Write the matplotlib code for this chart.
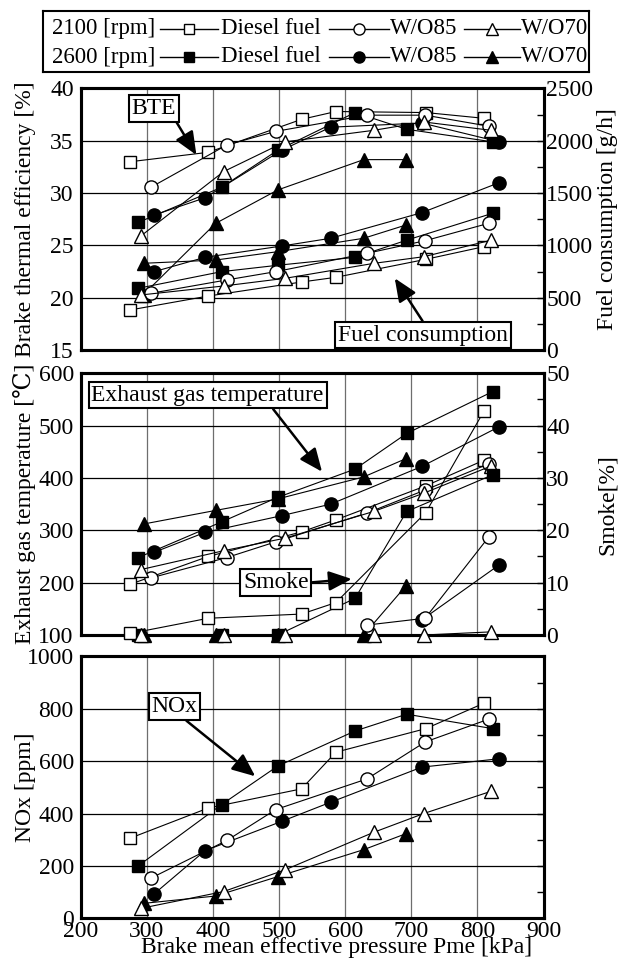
import numpy as np
import matplotlib.pyplot as plt
from matplotlib.ticker import MultipleLocator

plt.rcParams['font.family'] = ['Liberation Serif', 'DejaVu Serif']
plt.rcParams['font.size'] = 17

NAN = np.nan

# Brake mean effective pressure [kPa] for each test series
PME_D21 = [275, 393, 534, 586, 722, 810]
PME_O85_21 = [306, 421, 495, 633, 721, 817]
PME_O70_21 = [291, 416, 509, 643, 719, 821]
PME_D26 = [287, 413, 498, 615, 693, 823]
PME_O85_26 = [311, 388, 504, 578, 716, 833]
PME_O70_26 = [295, 404, 498, 628, 692]

# Brake thermal efficiency [%]
BTE_D21 = [33.0, 33.9, 37.05, 37.8, 37.7, 37.15]
BTE_O85_21 = [30.55, 34.6, 35.9, 37.45, 37.45, 36.4]
BTE_O70_21 = [25.9, 32.05, 34.9, 36.0, 36.8, 36.0]
BTE_D26 = [27.2, 30.55, 34.1, 37.7, 36.1, 34.9]
BTE_O85_26 = [27.9, 29.55, 34.1, 36.3, 36.7, 34.9]
BTE_O70_26 = [20.3, 27.1, 30.3, 33.2, 33.2]

# Fuel consumption [g/h]
FC_D21 = [383, 516, 650, 695, 867, 988]
FC_O85_21 = [542, 670, 749, 924, 1045, 1211]
FC_O70_21 = [526, 612, 685, 828, 892, 1050]
FC_D26 = [590, 749, 810, 886, 1050, 1307]
FC_O85_26 = [749, 886, 994, 1068, 1313, 1600]
FC_O70_26 = [829, 860, 940, 1068, 1195]

# Exhaust gas temperature [C]
EGT_D21 = [197, 250, 297, 320, 385, 434]
EGT_O85_21 = [209, 248, 278, 333, 377, 427]
EGT_O70_21 = [225, 261, 285, 336, 371, 423]
EGT_D26 = [248, 316, 363, 417, 485, 565]
EGT_O85_26 = [258, 296, 328, 350, 422, 498]
EGT_O70_26 = [312, 338, 360, 402, 437]

# Smoke [%]
SMK_D21 = [0.3, 3.2, 4.0, 6.2, 23.4, 42.8]
SMK_O85_21 = [NAN, NAN, NAN, 1.9, 3.2, 18.7]
SMK_O70_21 = [0, 0, 0, 0, 0, 0.6]
SMK_D26 = [0, 0, 0, 7.0, 23.6, 30.6]
SMK_O85_26 = [NAN, NAN, NAN, NAN, 2.9, 13.4]
SMK_O70_26 = [0, 0, 0, 0, 9.4]

# NOx [ppm]
NOX_D21 = [306, 421, 494, 634, 724, 821]
NOX_O85_21 = [153, 297, 415, 532, 673, 760]
NOX_O70_21 = [38, 102, 185, 328, 400, 485]
NOX_D26 = [200, 434, 581, 715, 779, 724]
NOX_O85_26 = [93, 258, 370, 443, 577, 609]
NOX_O70_26 = [57, 85, 159, 262, 323]

FUELS = ["Diesel fuel", "W/O85", "W/O70"]
SPEEDS = ["2100 [rpm]", "2600 [rpm]"]

# (marker, filled, markersize) -- 2600 rpm first so the open 2100 markers sit on top
STYLE = {
    "d26": ("s", True, 8.5), "o85_26": ("o", True, 9.5), "o70_26": ("^", True, 10),
    "d21": ("s", False, 8.5), "o85_21": ("o", False, 9.5), "o70_21": ("^", False, 10),
}
PME = {"d21": PME_D21, "o85_21": PME_O85_21, "o70_21": PME_O70_21,
       "d26": PME_D26, "o85_26": PME_O85_26, "o70_26": PME_O70_26}
BTE = {"d21": BTE_D21, "o85_21": BTE_O85_21, "o70_21": BTE_O70_21,
       "d26": BTE_D26, "o85_26": BTE_O85_26, "o70_26": BTE_O70_26}
FC = {"d21": FC_D21, "o85_21": FC_O85_21, "o70_21": FC_O70_21,
      "d26": FC_D26, "o85_26": FC_O85_26, "o70_26": FC_O70_26}
EGT = {"d21": EGT_D21, "o85_21": EGT_O85_21, "o70_21": EGT_O70_21,
       "d26": EGT_D26, "o85_26": EGT_O85_26, "o70_26": EGT_O70_26}
SMK = {"d21": SMK_D21, "o85_21": SMK_O85_21, "o70_21": SMK_O70_21,
       "d26": SMK_D26, "o85_26": SMK_O85_26, "o70_26": SMK_O70_26}
NOX = {"d21": NOX_D21, "o85_21": NOX_O85_21, "o70_21": NOX_O70_21,
       "d26": NOX_D26, "o85_26": NOX_O85_26, "o70_26": NOX_O70_26}
ORDER = ["d26", "o85_26", "o70_26", "d21", "o85_21", "o70_21"]

W, H = 618, 960
fig = plt.figure(figsize=(W / 100, H / 100), dpi=100)


def px_axes(x0, y0, x1, y1):
    """Axes from pixel box (left, top, right, bottom)."""
    return fig.add_axes([x0 / W, 1 - y1 / H, (x1 - x0) / W, (y1 - y0) / H])


def frame(ax, ylim, ystep, labels=False):
    ax.set_xlim(200, 900)
    ax.set_ylim(*ylim)
    ax.xaxis.set_major_locator(MultipleLocator(100))
    ax.yaxis.set_major_locator(MultipleLocator(ystep))
    ax.grid(True, axis="x", color="#6e6e6e", lw=0.9)
    ax.grid(True, axis="y", color="black", lw=0.9)
    ax.tick_params(length=0, pad=5, labelsize=17, labelbottom=labels)
    for s in ax.spines.values():
        s.set_linewidth(2.2)


def twin(ax, ylim, major, minor, labels=True):
    tw = ax.twinx()
    tw.set_ylim(*ylim)
    tw.yaxis.set_major_locator(MultipleLocator(major))
    tw.yaxis.set_minor_locator(MultipleLocator(minor))
    tw.tick_params(which="both", direction="in", length=5, width=1, pad=2,
                   labelsize=17, labelright=labels)
    for s in tw.spines.values():
        s.set_linewidth(2.2)
    return tw


def draw(ax, data):
    for key in ORDER:
        marker, filled, ms = STYLE[key]
        ax.plot(PME[key], data[key], color="black", lw=0.8, marker=marker, ms=ms,
                mfc="black" if filled else "white", mec="black", mew=1.0,
                clip_on=False, zorder=3)


def tag(ax, text, xy_text, xy_head, rel):
    ax.annotate(text, xy=xy_head, xytext=xy_text, ha="center", va="center", fontsize=17,
                bbox=dict(boxstyle="square,pad=0.12", fc="white", ec="black", lw=1.5),
                arrowprops=dict(arrowstyle="-|>,head_length=0.7,head_width=0.3", lw=1.8,
                                color="black", mutation_scale=20, relpos=rel,
                                shrinkA=0, shrinkB=0),
                zorder=6)


LABEL_X = -0.097

# --- BTE / fuel consumption ---
ax1 = px_axes(80.7, 88.5, 543.5, 350)
frame(ax1, (15, 40), 5)
tw1 = twin(ax1, (0, 2500), 500, 250)
draw(ax1, BTE)
draw(tw1, FC)
ax1.set_ylabel("Brake thermal efficiency [%]", fontsize=17)
ax1.yaxis.set_label_coords(LABEL_X, 0.5)
tw1.set_ylabel("Fuel consumption [g/h]", fontsize=17)
tw1.yaxis.set_label_coords(1.115, 0.5)
tag(tw1, "BTE", (311, 2310), (375, 1864), (0.93, 0.1))
tag(tw1, "Fuel consumption", (718, 143), (675, 686), (0.51, 1.0))

# --- exhaust gas temperature / smoke ---
ax2 = px_axes(80.7, 373.3, 543.5, 635)
frame(ax2, (100, 600), 100)
tw2 = twin(ax2, (0, 50), 10, 5)
draw(ax2, EGT)
draw(tw2, SMK)
ax2.set_ylabel("Exhaust gas temperature [\u2103]", fontsize=17,
               family=["Liberation Serif", "DejaVu Serif"])
ax2.yaxis.set_label_coords(LABEL_X, 0.5)
tw2.set_ylabel("Smoke[%]", fontsize=17)
tw2.yaxis.set_label_coords(1.115, 0.5)
tag(tw2, "Exhaust gas temperature", (392, 45.85), (565, 31.2), (0.77, 0.0))
tag(tw2, "Smoke", (495, 10.0), (610, 10.7), (1.0, 0.5))

# --- NOx ---
ax3 = px_axes(80.7, 656.3, 543.5, 918.3)
frame(ax3, (0, 1000), 200, labels=True)
ax3.tick_params(axis="x", pad=2)
twin(ax3, (0, 1000), 100, 100, labels=False)
draw(ax3, NOX)
ax3.set_ylabel("NOx [ppm]", fontsize=17)
ax3.yaxis.set_label_coords(LABEL_X, 0.5)
tag(ax3, "NOx", (342, 808), (464, 542), (0.66, 0.0))
fig.text(337 / W, 1 - 948 / H, "Brake mean effective pressure Pme [kPa]",
         ha="center", va="center", fontsize=17)

# --- legend box ---
leg = px_axes(43, 11, 589, 72)
leg.set_xlim(0, 546)
leg.set_ylim(61, 0)
leg.set_xticks([])
leg.set_yticks([])
for s in leg.spines.values():
    s.set_linewidth(1.5)
rows = [17.5, 46]
handles = [(117, 175, 178), (286, 346, 347), (421, 477, 478)]
for r, (speed, keys) in enumerate(zip(SPEEDS, [["d21", "o85_21", "o70_21"],
                                               ["d26", "o85_26", "o70_26"]])):
    y = rows[r]
    leg.text(9, y, speed, ha="left", va="center", fontsize=16.5)
    for (x0, x1, xt), key, name in zip(handles, keys, FUELS):
        marker, filled, ms = STYLE[key]
        leg.plot([x0, x1], [y, y], color="black", lw=1.0)
        leg.plot([(x0 + x1) / 2], [y], marker=marker, ms=ms - 1.5, mec="black", mew=1.0,
                 mfc="black" if filled else "white", ls="none")
        leg.text(xt, y, name, ha="left", va="center", fontsize=16.5)

fig.savefig("out.png", dpi=100)
